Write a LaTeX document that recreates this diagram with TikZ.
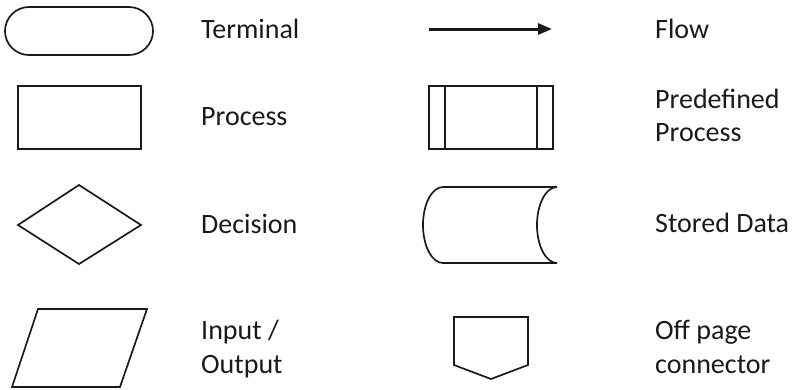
\documentclass[tikz,border=0pt]{standalone}
\usepackage{fontspec}
\setmainfont{Carlito}
\usetikzlibrary{arrows.meta}
\definecolor{ink}{HTML}{1A1A1A}
\begin{document}
\begin{tikzpicture}[x=1pt,y=-1pt,
  symbol/.style={draw=ink,line width=1.7pt,line join=miter},
  legend/.style={anchor=base west,inner sep=0pt,align=left,text=ink,
    font=\fontsize{28}{33.5}\selectfont}]
\useasboundingbox (0,0) rectangle (795,389);

% terminal
\draw[symbol,rounded corners=24pt] (5,7) rectangle (153,55);
% process
\draw[symbol] (18,86) rectangle (141,149);
% decision
\draw[symbol] (79,185) -- (141,225) -- (79,264) -- (18,225) -- cycle;
% input / output
\draw[symbol] (38,309) -- (147,309) -- (120,387) -- (12,387) -- cycle;

% flow
\coordinate (fa) at (429,29);
\coordinate (fb) at (552,29);
\draw[ink,line width=3pt,-{Triangle[length=14pt,width=11pt]}] (fa) -- (fb);
% predefined process
\draw[symbol] (429,86) rectangle (553,149);
\draw[symbol] (445,86) -- (445,149);
\draw[symbol] (537,86) -- (537,149);
% stored data
\draw[symbol] (557,187) -- (443,187)
  arc[start angle=-90,end angle=-270,x radius=20,y radius=38]
  -- (557,263)
  arc[start angle=90,end angle=270,x radius=20,y radius=38];
% off page connector
\draw[symbol] (454,317) -- (528,317) -- (528,365) -- (491,379) -- (454,365) -- cycle;

% labels (multi-line labels sit on the baseline of their last line)
\node[legend] (lterm) at (201,38.5) {Terminal};
\node[legend] (lproc) at (201,125) {Process};
\node[legend] (ldec) at (201,233) {Decision};
\node[legend] (lio) at (201,373) {Input /\\Output};
\node[legend] (lflow) at (655,38.5) {Flow};
\node[legend] (lpre) at (655,141.5) {Predefined\\Process};
\node[legend] (lsto) at (655,232) {Stored Data};
\node[legend] (loff) at (655,373) {Off page\\connector};
\end{tikzpicture}
\end{document}
